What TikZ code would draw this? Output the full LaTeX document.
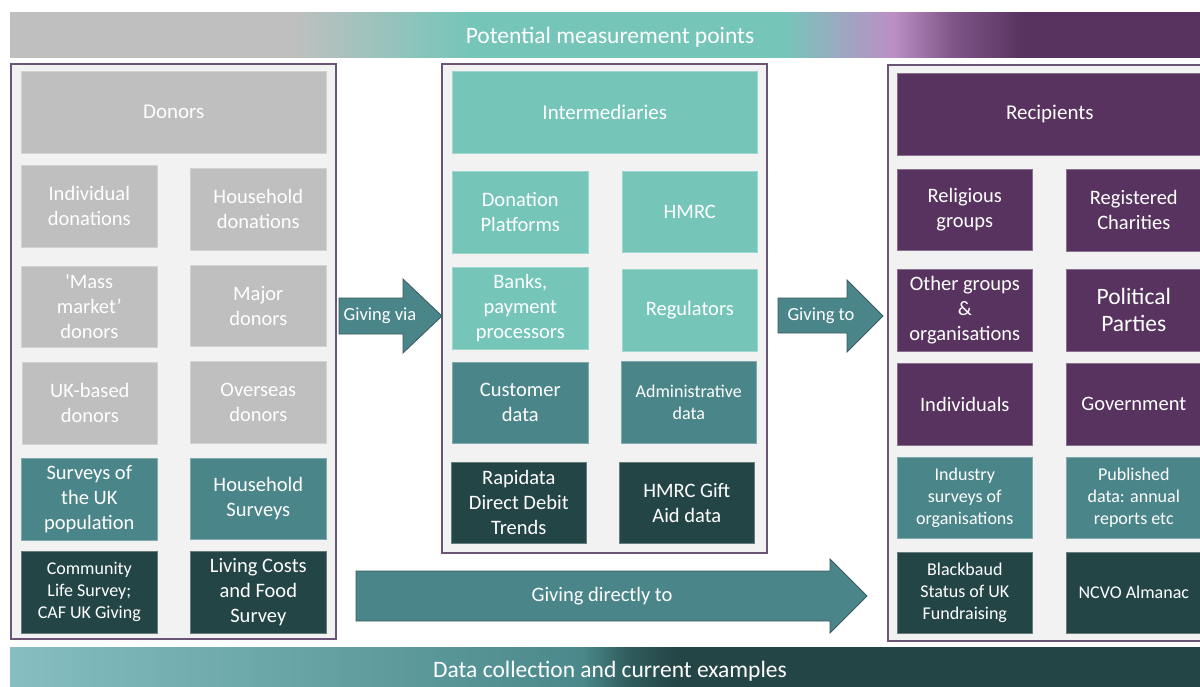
\documentclass[tikz,border=0pt]{standalone}
\usepackage{fontspec}
\setmainfont{Carlito}[Ligatures=TeXOff]
\usetikzlibrary{shadings}

% palette
\definecolor{cGray}{HTML}{BFBFBF}
\definecolor{cTealL}{HTML}{75C6B9}
\definecolor{cTealM}{HTML}{4A8589}
\definecolor{cTealD}{HTML}{244546}
\definecolor{cPurple}{HTML}{58335F}
\definecolor{cPanel}{HTML}{F2F2F2}
\definecolor{cPanelEdge}{HTML}{6B5577}
\definecolor{cArrowEdge}{HTML}{3A5A60}
\definecolor{cBlueGray}{HTML}{9AAAC0}
\definecolor{cLavender}{HTML}{BB8FC4}
\definecolor{cPlum}{HTML}{7E5588}
\definecolor{cTealPale}{HTML}{86BEC1}
\definecolor{cTealMid}{HTML}{4A898B}
\definecolor{cTealDeep}{HTML}{2F5B5C}

% banner gradients (the path is mapped onto 25bp..75bp)
\pgfdeclarehorizontalshading{measureband}{100bp}{%
  color(0bp)=(cGray); color(25bp)=(cGray); color(36.8bp)=(cGray);
  color(44.1bp)=(cTealL); color(57.2bp)=(cTealL); color(59.5bp)=(cBlueGray);
  color(61.8bp)=(cLavender); color(64.3bp)=(cPlum); color(67.2bp)=(cPurple);
  color(100bp)=(cPurple)}
\pgfdeclarehorizontalshading{databand}{100bp}{%
  color(0bp)=(cTealPale); color(25bp)=(cTealPale); color(48.8bp)=(cTealMid);
  color(50.8bp)=(cTealDeep); color(52.8bp)=(cTealD); color(100bp)=(cTealD)}

\newcommand\fsz[2]{\fontsize{#1}{#2}\selectfont}

\begin{document}
\begin{tikzpicture}[x=1pt,y=-1pt,
  panel/.style={fill=cPanel, draw=cPanelEdge, line width=1.2pt},
  cell/.style={anchor=north west, inner sep=0pt, align=center, text=white,
    font=\fsz{20.5}{25}, line width=0.6pt, minimum width=136pt, minimum height=82pt},
  small/.style={font=\fsz{18}{22}},
  graybox/.style={cell, fill=cGray, draw=cGray!70!white},
  lteal/.style={cell, fill=cTealL, draw=cTealL!70!white},
  mteal/.style={cell, fill=cTealM, draw=cTealM!70!white},
  dteal/.style={cell, fill=cTealD, draw=cTealD!70!white},
  purp/.style={cell, fill=cPurple, draw=cPurple!70!white},
  head/.style={minimum width=305pt, font=\fsz{21}{25}},
  blockarrow/.style={fill=cTealM, draw=cArrowEdge, line width=0.8pt, line join=miter},
  arrowtext/.style={text=white, inner sep=0pt, font=\fsz{18.5}{22}},
  band/.style={anchor=north west, inner sep=0pt, minimum width=1200pt},
  bandtext/.style={anchor=base, inner sep=0pt, text=white, font=\fsz{23.5}{28}}
]
\clip (0,0) rectangle (1200,686);
\fill[white] (0,0) rectangle (1200,686);

% banners
\node[band, shading=measureband, minimum height=45pt] (topband) at (10,12) {};
\node[bandtext] (toptext) at (610,43) {Potential measurement points};
\node[band, shading=databand, minimum height=40pt] (botband) at (10,647) {};
\node[bandtext] (bottext) at (610,677) {Data collection and current examples};

% three panels
\draw[panel] (11,64) rectangle (336,639);
\draw[panel] (442,64) rectangle (767,553);
\draw[panel] (888,65) rectangle (1220,641);

% donors
\node[graybox, head] (donors) at (21,71) {Donors};
\node[graybox] (indiv) at (21,165) {Individual\\donations};
\node[graybox] (house) at (190,168) {Household\\donations};
\node[graybox, minimum height=81pt] (mass) at (21,266) {'Mass\\market’\\donors};
\node[graybox, minimum height=81pt] (major) at (190,265) {Major\\donors};
\node[graybox, minimum width=135pt] (ukbased) at (22,362) {UK-based\\donors};
\node[graybox] (overseas) at (190,361) {Overseas\\donors};
\node[mteal] (ukpop) at (21,458) {Surveys of\\the UK\\population};
\node[mteal, minimum height=81pt] (hhsurv) at (190,458) {Household\\Surveys};
\node[dteal, small] (community) at (21,551) {Community\\Life Survey;\\CAF UK Giving};
\node[dteal] (lcf) at (190,551) {Living Costs\\and Food\\Survey};

% intermediaries
\node[lteal, head] (inter) at (452,71) {Intermediaries};
\node[lteal] (platforms) at (452,171) {Donation\\Platforms};
\node[lteal, minimum width=135pt, minimum height=81pt] (hmrc) at (622,171) {HMRC};
\node[lteal] (banks) at (452,267) {Banks,\\payment\\processors};
\node[lteal, minimum width=135pt] (regul) at (622,269) {Regulators};
\node[mteal, minimum height=81pt] (customer) at (452,362) {Customer\\data};
\node[mteal, small, minimum width=135pt] (admin) at (621,361) {Administrative\\data};
\node[dteal, minimum width=135pt, minimum height=81pt] (rapidata) at (451,462) {Rapidata\\Direct Debit\\Trends};
\node[dteal, minimum width=135pt, minimum height=81pt] (giftaid) at (619,462) {HMRC Gift\\Aid data};

% recipients
\node[purp, head] (recip) at (897,73) {Recipients};
\node[purp, minimum width=135pt, minimum height=81pt] (relig) at (897,169) {Religious\\groups};
\node[purp, minimum width=135pt] (charities) at (1066,169) {Registered\\Charities};
\node[purp, minimum width=135pt] (othergr) at (897,269) {Other groups\\\&\\organisations};
\node[purp, minimum width=135pt, font=\fsz{23.5}{27}] (parties) at (1066,269) {Political\\Parties};
\node[purp, minimum width=135pt] (indivs) at (897,363) {Individuals};
\node[purp, minimum width=135pt] (govt) at (1066,363) {Government};
\node[mteal, small, minimum width=135pt, minimum height=81pt] (industry) at (897,457) {Industry\\surveys of\\organisations};
\node[mteal, small, minimum width=135pt, minimum height=81pt] (published) at (1066,457) {Published\\data: annual\\reports etc};
\node[dteal, small, minimum width=135pt, minimum height=81pt] (blackbaud) at (897,552) {Blackbaud\\Status of UK\\Fundraising};
\node[dteal, small, minimum width=135pt, minimum height=81pt] (ncvo) at (1066,552) {NCVO Almanac};

% block arrows between the panels
\draw[blockarrow] (339,298) -- (403,298) -- (403,279) -- (442,316) -- (403,353) -- (403,334) -- (339,334) -- cycle;
\node[arrowtext] (via) at (380,316) {Giving via};
\draw[blockarrow] (778,298) -- (847,298) -- (847,280) -- (883,316) -- (847,352) -- (847,333) -- (778,333) -- cycle;
\node[arrowtext] (to) at (821,316) {Giving to};
\draw[blockarrow] (356,571) -- (830,571) -- (830,559) -- (867,596) -- (830,633) -- (830,621) -- (356,621) -- cycle;
\node[arrowtext, font=\fsz{20.5}{25}] (direct) at (602,596) {Giving directly to};
\end{tikzpicture}
\end{document}
